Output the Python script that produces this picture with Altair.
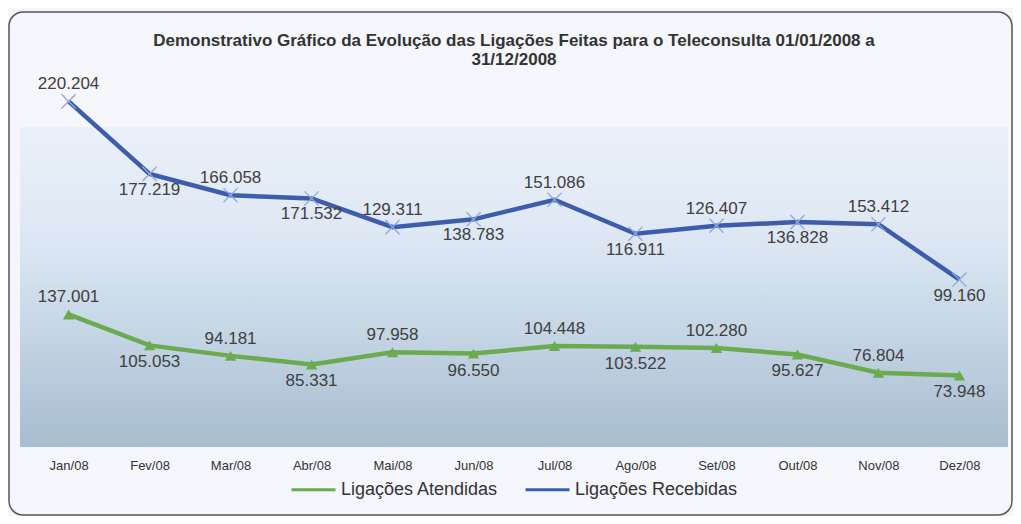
import altair as alt
import pandas as pd

meses = ["Jan/08", "Fev/08", "Mar/08", "Abr/08", "Mai/08", "Jun/08",
         "Jul/08", "Ago/08", "Set/08", "Out/08", "Nov/08", "Dez/08"]
# values in thousands (labels read as 137.001 = 137,001 calls)
atendidas = [137.001, 105.053, 94.181, 85.331, 97.958, 96.550,
             104.448, 103.522, 102.280, 95.627, 76.804, 73.948]
recebidas = [220.204, 177.219, 166.058, 171.532, 129.311, 138.783,
             151.086, 116.911, 126.407, 136.828, 153.412, 99.160]
series = ["Ligações Atendidas", "Ligações Recebidas"]
titulo = ["Demonstrativo Gráfico da Evolução das Ligações Feitas para o Teleconsulta 01/01/2008 a",
          "31/12/2008"]

df = pd.DataFrame({"mes": meses, "idx": list(range(len(meses))),
                   "atendidas": atendidas, "recebidas": recebidas})

W, H = 988, 387
GREEN = "#6aab4f"
BLUE = "#3d5cae"
XBLUE = "#8fa8dc"
FONT = "Liberation Sans"

x = alt.X("mes:O", sort=meses,
          scale=alt.Scale(type="point", padding=0.6),
          axis=alt.Axis(title=None, labelAngle=0, ticks=False, domain=False,
                        grid=False, labelPadding=12, labelFontSize=13,
                        labelColor="#333333", labelFont=FONT))
yscale = alt.Scale(domain=[0, 400], nice=False, zero=True)

base = alt.Chart(df).transform_calculate(
    total="datum.atendidas + datum.recebidas",
    par="datum.idx % 2",
)

one = pd.DataFrame({"z": [0]})
bg = alt.Chart(one).mark_rect(
    fill=alt.Gradient(gradient="linear", x1=0, y1=0, x2=0, y2=1,
                      stops=[alt.GradientStop(offset=0, color="#eaf0f9"),
                             alt.GradientStop(offset=0.35, color="#dde7f3"),
                             alt.GradientStop(offset=0.65, color="#c4d5e4"),
                             alt.GradientStop(offset=1, color="#a6bccf")])
).encode(x=alt.value(0), x2=alt.value(W), y=alt.value(67), y2=alt.value(H))

border = alt.Chart(one).mark_rect(
    fillOpacity=0, stroke="#555555", strokeWidth=1.5, cornerRadius=14
).encode(x=alt.value(-11), x2=alt.value(992), y=alt.value(-48), y2=alt.value(455))

lines = base.transform_fold(["atendidas", "total"], as_=["k", "v"]).transform_calculate(
    serie="datum.k == 'atendidas' ? 'Ligações Atendidas' : 'Ligações Recebidas'"
).mark_line(strokeWidth=4.5).encode(
    x=x,
    y=alt.Y("v:Q", scale=yscale, axis=None),
    color=alt.Color("serie:N", scale=alt.Scale(domain=series, range=[GREEN, BLUE]),
                    legend=alt.Legend(title=None, orient="none", legendX=270, legendY=406,
                                      direction="horizontal", symbolType="stroke",
                                      symbolSize=1936, symbolStrokeWidth=3,
                                      labelFontSize=18, labelFont=FONT,
                                      labelColor="#333333", columnPadding=20,
                                      labelOffset=4, labelLimit=300)),
)

gpts = base.mark_point(shape="triangle-up", filled=True, size=130, color=GREEN, opacity=1).encode(
    x=x, y=alt.Y("atendidas:Q", scale=yscale, axis=None))
bpts = base.mark_point(shape="M-1,-1L1,1M-1,1L1,-1", filled=False, size=200,
                       strokeWidth=1.3, color=XBLUE, opacity=1).encode(
    x=x, y=alt.Y("total:Q", scale=yscale, axis=None))


def labels(field, ycol, parity, dy):
    return base.transform_filter(f"datum.par == {parity}").mark_text(
        dy=dy, fontSize=17, font=FONT, color="#404040", baseline="middle"
    ).encode(x=x, y=alt.Y(f"{ycol}:Q", scale=yscale, axis=None),
             text=alt.Text(f"{field}:Q", format=".3f"))


texts = [labels("atendidas", "atendidas", 0, -17), labels("atendidas", "atendidas", 1, 17),
         labels("recebidas", "total", 0, -17), labels("recebidas", "total", 1, 16)]

chart = alt.layer(bg, border, lines, gpts, bpts, *texts).properties(
    width=W, height=H,
    title=alt.TitleParams(titulo, fontSize=17, fontWeight="bold", font=FONT,
                          color="#333333", anchor="middle", offset=-58, lineHeight=19),
    padding={"left": 12, "top": 52, "right": 5, "bottom": 69},
    autosize=alt.AutoSizeParams(type="none"),
    background="#f4f6fb",
).configure_view(strokeWidth=0)

chart.save("out.html", embed_options={"renderer": "svg", "actions": False})
